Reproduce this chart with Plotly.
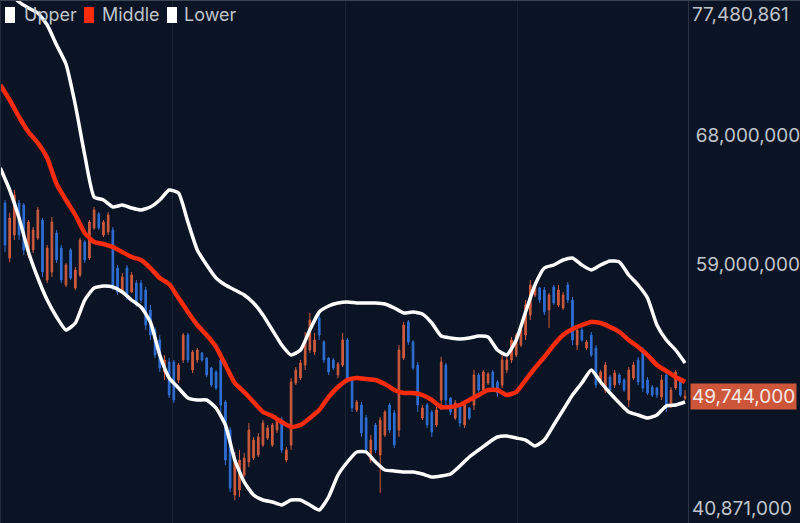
import plotly.graph_objects as go

M = 1_000_000

# ---- candle data (millions) ----
open_m = [63.27, 59.42, 61.03, 63.27, 63.13, 59.63, 59.98, 60.82, 62.08, 57.88,
          58.44, 61.17, 60.12, 57.53, 59.98, 57.32, 58.23, 60.54, 59.42, 61.52,
          62.50, 61.03, 61.24, 61.38, 58.72, 57.04, 58.72, 57.04, 57.67, 57.67,
          57.18, 55.78, 54.38, 53.68, 51.44, 52.14, 52.14, 50.88, 52.28, 54.03,
          51.58, 52.28, 52.77, 52.42, 51.72, 51.44, 52.28, 49.34, 47.38, 42.83,
          43.18, 44.23, 45.14, 45.42, 45.63, 46.33, 46.82, 46.33, 47.38, 48.08,
          45.28, 46.33, 50.67, 51.02, 51.93, 52.98, 52.84, 55.22, 53.54, 52.42,
          52.28, 51.23, 51.93, 53.68, 50.88, 48.78, 49.13, 48.22, 45.28, 47.73,
          45.63, 47.03, 49.13, 48.57, 47.38, 52.42, 54.94, 53.54, 51.93, 48.22,
          49.13, 48.64, 47.73, 49.48, 51.93, 49.62, 48.22, 48.99, 47.73, 48.92,
          49.13, 51.23, 50.18, 50.67, 51.44, 50.74, 50.53, 51.58, 52.28, 52.63,
          53.33, 54.03, 55.43, 56.83, 57.32, 57.18, 55.78, 57.39, 56.13, 55.92,
          57.53, 56.48, 53.33, 54.38, 53.12, 54.03, 53.12, 50.67, 50.18, 51.09,
          50.53, 51.23, 50.88, 49.48, 51.02, 52.28, 52.98, 50.88, 50.39, 50.32,
          49.69, 51.23, 49.13, 50.32, 50.88, 49.62]
high_m = [63.48, 62.57, 64.18, 63.48, 63.27, 62.08, 61.59, 62.99, 62.22, 60.33,
          62.29, 61.38, 60.33, 59.07, 60.12, 58.79, 60.82, 60.68, 62.08, 62.99,
          62.64, 62.08, 62.64, 61.59, 58.93, 58.37, 58.93, 58.44, 57.88, 57.88,
          57.39, 56.13, 54.59, 54.03, 52.63, 52.42, 52.28, 52.07, 54.17, 54.17,
          52.98, 53.12, 52.84, 52.49, 51.79, 51.58, 52.63, 49.48, 47.59, 45.84,
          45.98, 45.77, 47.87, 46.89, 47.17, 48.08, 47.73, 47.87, 48.29, 48.29,
          46.19, 51.02, 51.79, 52.28, 54.24, 55.57, 54.17, 55.57, 53.68, 52.49,
          52.42, 52.14, 54.17, 53.82, 51.09, 49.48, 49.34, 48.43, 47.03, 47.87,
          48.29, 48.78, 49.27, 48.78, 53.33, 54.94, 55.08, 53.68, 52.14, 49.13,
          49.27, 48.78, 48.99, 52.49, 52.07, 49.69, 49.48, 49.13, 49.48, 48.99,
          51.58, 51.37, 51.58, 51.44, 51.58, 50.88, 52.63, 52.49, 53.89, 54.17,
          54.59, 56.48, 57.88, 57.74, 57.39, 57.39, 56.97, 57.53, 57.53, 57.04,
          57.74, 56.69, 54.73, 54.59, 53.68, 54.24, 53.33, 51.58, 52.14, 51.23,
          51.58, 51.37, 51.02, 51.79, 52.14, 52.49, 53.19, 51.09, 50.53, 50.39,
          51.23, 51.37, 50.39, 51.58, 51.02, 50.18]
low_m = [59.84, 59.14, 60.68, 60.68, 59.63, 59.42, 59.77, 60.68, 58.09, 57.67,
         58.09, 59.07, 57.67, 57.39, 57.88, 57.18, 58.09, 59.07, 59.28, 61.38,
         61.38, 60.89, 61.03, 57.18, 56.83, 56.97, 56.48, 56.97, 55.99, 56.27,
         54.38, 53.68, 52.42, 51.44, 50.88, 49.62, 49.27, 50.67, 52.07, 52.07,
         51.37, 52.07, 52.14, 51.09, 50.39, 50.18, 48.57, 44.93, 43.04, 42.48,
         42.69, 44.09, 44.79, 45.28, 45.49, 46.19, 46.68, 46.19, 47.17, 45.77,
         45.14, 45.98, 50.53, 50.88, 51.58, 52.77, 52.63, 53.68, 52.07, 51.23,
         51.58, 51.02, 51.79, 50.67, 48.64, 48.64, 46.89, 45.77, 45.07, 45.77,
         42.97, 46.89, 47.17, 46.12, 46.89, 52.28, 53.33, 51.58, 48.64, 48.08,
         47.52, 46.89, 47.59, 48.78, 49.13, 48.43, 48.08, 47.59, 47.52, 48.08,
         48.78, 49.97, 49.97, 50.53, 50.18, 49.69, 50.32, 51.37, 52.07, 52.49,
         53.19, 53.68, 55.08, 56.69, 56.27, 55.43, 54.52, 56.13, 55.99, 55.78,
         56.27, 53.33, 52.98, 53.54, 52.98, 52.49, 50.32, 50.53, 49.97, 50.04,
         50.32, 50.53, 50.04, 48.99, 50.88, 50.53, 50.04, 49.83, 49.69, 49.62,
         49.48, 48.64, 48.92, 50.18, 49.69, 49.48]
close_m = [60.33, 62.22, 63.83, 61.03, 59.98, 61.94, 61.38, 62.78, 58.44, 60.12,
           61.94, 59.28, 57.88, 58.93, 58.02, 58.58, 60.68, 59.28, 61.94, 62.78,
           61.52, 61.94, 62.43, 57.53, 57.04, 58.09, 56.69, 58.23, 56.13, 56.48,
           54.73, 54.03, 52.63, 51.72, 52.28, 49.83, 49.48, 51.93, 54.03, 52.28,
           52.84, 52.98, 52.28, 51.23, 50.53, 50.32, 49.13, 45.28, 43.32, 45.28,
           45.28, 45.42, 47.38, 46.68, 46.89, 47.87, 47.52, 47.73, 48.08, 45.98,
           45.98, 50.74, 51.58, 52.07, 53.68, 55.08, 53.68, 54.03, 52.28, 51.44,
           51.72, 52.00, 53.68, 51.02, 48.92, 49.34, 47.17, 45.98, 46.68, 45.98,
           48.08, 48.64, 47.38, 46.33, 52.98, 54.73, 53.54, 51.72, 49.13, 48.92,
           47.73, 47.24, 48.78, 52.14, 49.48, 48.64, 49.27, 47.87, 49.27, 48.22,
           51.23, 50.18, 51.44, 51.30, 50.32, 49.97, 52.28, 52.28, 53.68, 54.03,
           54.38, 56.13, 57.53, 57.53, 56.48, 55.64, 56.83, 56.27, 57.18, 56.83,
           56.48, 53.68, 54.38, 53.68, 53.54, 52.63, 50.53, 51.44, 51.93, 50.18,
           51.37, 50.67, 50.18, 51.58, 51.93, 50.74, 50.32, 49.97, 49.83, 49.83,
           50.88, 49.13, 50.18, 51.44, 49.83, 49.744]

# ---- Bollinger band data (millions), every second bar ----
band_idx = list(range(-1, 146, 2))
upper_m = [78.88, 78.04, 77.34, 76.92, 76.57, 75.73, 74.33, 73.00, 70.13, 66.63,
           63.69, 63.48, 62.99, 63.13, 62.92, 62.78, 62.99, 63.48, 64.18, 63.97,
           61.94, 59.98, 58.93, 58.02, 57.53, 57.18, 56.83, 56.27, 55.43, 54.38,
           53.33, 52.63, 52.98, 54.38, 55.64, 56.06, 56.27, 56.34, 56.27, 56.27,
           56.27, 56.20, 55.92, 55.57, 55.64, 55.50, 54.87, 53.96, 53.82, 53.75,
           53.82, 53.96, 53.89, 52.98, 52.63, 53.68, 55.64, 57.53, 58.72, 58.93,
           59.28, 59.42, 58.93, 58.58, 58.93, 59.21, 59.14, 58.23, 57.53, 56.62,
           54.73, 53.68, 52.98, 52.07]
middle_m = [71.53, 70.48, 69.29, 68.24, 67.47, 66.42, 64.60, 63.48, 62.43, 61.17,
            60.54, 60.40, 60.19, 59.84, 59.49, 59.28, 58.72, 58.02, 57.60, 56.62,
            55.64, 54.73, 54.03, 53.19, 51.93, 50.67, 50.04, 49.34, 48.64, 48.36,
            47.94, 47.59, 47.73, 48.22, 48.78, 49.69, 50.39, 50.88, 51.02, 50.95,
            50.88, 50.60, 50.18, 49.97, 49.97, 49.83, 49.48, 48.99, 48.99, 49.13,
            49.48, 49.83, 50.18, 50.18, 49.83, 50.04, 50.88, 51.72, 52.49, 53.33,
            54.03, 54.45, 54.73, 54.94, 54.87, 54.59, 54.24, 53.68, 53.19, 52.63,
            51.93, 51.51, 51.09, 50.74]
lower_m = [65.72, 64.18, 62.22, 59.84, 58.02, 56.48, 55.29, 54.38, 54.87, 56.48,
           57.32, 57.46, 57.39, 57.04, 56.48, 55.99, 54.94, 52.63, 51.02, 50.32,
           49.62, 49.48, 49.48, 48.92, 47.73, 45.28, 43.74, 42.83, 42.48, 42.34,
           42.13, 42.48, 42.48, 42.13, 41.78, 42.69, 44.23, 45.14, 45.84, 45.84,
           45.14, 44.58, 44.51, 44.44, 44.44, 44.30, 44.09, 44.16, 44.30, 44.86,
           45.49, 45.98, 46.47, 46.89, 46.96, 46.82, 46.68, 46.26, 46.68, 47.73,
           48.78, 49.83, 50.67, 51.58, 50.74, 49.97, 49.27, 48.64, 48.43, 48.22,
           48.43, 49.06, 49.13, 49.34]

y_min = 40871000
y_max = 77480861
last_price = 49744000
tick_vals = [68000000, 59000000]
legend_names = ["Upper", "Middle", "Lower"]

BG = "#0b1424"
RED_C = "#cf5b3d"
BLUE_C = "#2f6fd4"
MID_C = "#fb2c0c"
TXT = "#bfc4cc"
FONT = "Inter"
AXFONT = "Inter"
AXSIZE = 19

bars = list(range(len(close_m)))
sc = lambda arr: [v * M for v in arr]

fig = go.Figure()
fig.add_trace(go.Scatter(x=band_idx, y=sc(upper_m), mode="lines", name="Upper",
                         line=dict(color="#ffffff", width=3.5, shape="spline", smoothing=0.5)))
fig.add_trace(go.Scatter(x=band_idx, y=sc(lower_m), mode="lines", name="Lower",
                         line=dict(color="#ffffff", width=3.5, shape="spline", smoothing=0.5)))
fig.add_trace(go.Scatter(x=band_idx, y=sc(middle_m), mode="lines", name="Middle",
                         line=dict(color=MID_C, width=4.5, shape="spline", smoothing=0.5)))
fig.add_trace(go.Candlestick(
    x=bars, open=sc(open_m), high=sc(high_m), low=sc(low_m), close=sc(close_m),
    increasing=dict(line=dict(color=RED_C, width=1), fillcolor=RED_C),
    decreasing=dict(line=dict(color=BLUE_C, width=1), fillcolor=BLUE_C),
    whiskerwidth=0, showlegend=False))

W, H = 800, 523
PW = 688
def px(xp):
    return xp / PW
def py(yp):
    return 1 - yp / H

shapes = [
    dict(type="line", xref="paper", yref="paper", x0=0, x1=px(W), y0=py(0.5), y1=py(0.5),
         line=dict(color="#3a4452", width=1)),
    dict(type="line", xref="paper", yref="paper", x0=px(0.5), x1=px(0.5), y0=0, y1=1,
         line=dict(color="#252f3d", width=1)),
]
icon_x = [5, 84, 167]
icon_col = ["#ffffff", MID_C, "#ffffff"]
text_x = [22, 100, 182]
annotations = []
for name, ix, col, tx in zip(legend_names, icon_x, icon_col, text_x):
    shapes.append(dict(type="rect", xref="paper", yref="paper", x0=px(ix), x1=px(ix + 10),
                       y0=py(23), y1=py(7), fillcolor=col, line=dict(width=0)))
    annotations.append(dict(text=name, xref="paper", yref="paper", x=px(tx), y=py(15),
                            xanchor="left", yanchor="middle", showarrow=False,
                            font=dict(color=TXT, size=18, family=FONT)))

annotations += [
    dict(text=f"{y_max:,}", xref="paper", yref="y", x=1, y=y_max, xanchor="left", yanchor="top",
         xshift=2, yshift=-1, showarrow=False, font=dict(color=TXT, size=AXSIZE, family=AXFONT)),
    dict(text=f"{y_min:,}", xref="paper", yref="y", x=1, y=y_min, xanchor="left", yanchor="bottom",
         xshift=2, yshift=1, showarrow=False, font=dict(color=TXT, size=AXSIZE, family=AXFONT)),
    dict(text=f"{last_price:,}", xref="paper", yref="y", x=1, y=last_price, xanchor="left",
         yanchor="middle", xshift=2, showarrow=False, bgcolor="#cc553a", borderpad=1,
         font=dict(color="#f4e9e6", size=AXSIZE, family=AXFONT)),
]

fig.update_layout(
    width=W, height=H, margin=dict(l=0, r=W - PW, t=0, b=0, autoexpand=False),
    paper_bgcolor=BG, plot_bgcolor=BG, showlegend=False, boxgap=0.5,
    shapes=shapes, annotations=annotations,
    xaxis=dict(range=[-1.066, 145.63], rangeslider=dict(visible=False), showgrid=True,
               gridcolor="#1a2534", gridwidth=1, tickvals=[35.8, 72.5, 109.2],
               showticklabels=False, zeroline=False, ticks=""),
    yaxis=dict(side="right", range=[y_min, y_max], tickvals=tick_vals, tickformat=",d",
               showgrid=False, zeroline=False, showline=True, linecolor="#2a3444",
               ticks="", ticklabelstandoff=3, tickfont=dict(color=TXT, size=AXSIZE, family=AXFONT)),
)

fig.write_html("out.html", config={"displayModeBar": False},
               post_script="document.body.style.margin='0';document.body.style.background='#0b1424';")
